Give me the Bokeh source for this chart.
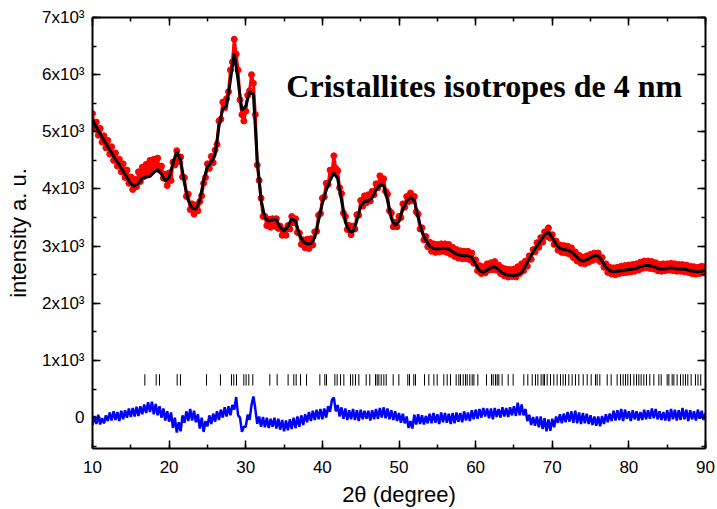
import numpy as np
from bokeh.plotting import figure
from bokeh.models import (LinearAxis, SingleIntervalTicker, Range1d, Label)
from bokeh.embed import file_html
from bokeh.resources import INLINE

# ---------------- data ----------------
X_START = 10.0
CALC_STEP = 0.5
OBS_STEP = 0.25

# calculated profile (black line), every 0.5 deg from 10 to 90
y_calc = [
    5210, 5080, 4960, 4850, 4740, 4630, 4520, 4420, 4310, 4200,   # 10 - 14.5
    4090, 4050, 4100, 4190, 4210, 4220, 4290, 4340, 4260, 4140,   # 15 - 19.5
    4200, 4450, 4660, 4500, 4100, 3800, 3660, 3650, 3800, 4150,   # 20 - 24.5
    4390, 4470, 4600, 5100, 5400, 5450, 5900, 6370, 5900, 5380,   # 25 - 29.5
    5450, 5700, 5650, 4500, 3800, 3500, 3440, 3460, 3460, 3330,   # 30 - 34.5
    3260, 3340, 3480, 3440, 3200, 3080, 3040, 3040, 3150, 3450,   # 35 - 39.5
    3750, 3980, 4150, 4280, 4180, 3800, 3420, 3260, 3250, 3450,   # 40 - 44.5
    3700, 3780, 3790, 3850, 3980, 4070, 4060, 3800, 3480, 3360,   # 45 - 49.5
    3430, 3650, 3780, 3850, 3800, 3500, 3250, 3100, 3000, 2960,   # 50 - 54.5
    2950, 2960, 2960, 2950, 2900, 2860, 2840, 2830, 2830, 2800,   # 55 - 59.5
    2680, 2570, 2540, 2580, 2620, 2640, 2590, 2530, 2500, 2490,   # 60 - 64.5
    2480, 2500, 2540, 2650, 2780, 2900, 3000, 3100, 3200, 3250,   # 65 - 69.5
    3150, 3030, 2960, 2940, 2930, 2900, 2840, 2770, 2740, 2760,   # 70 - 74.5
    2800, 2830, 2830, 2740, 2630, 2570, 2550, 2560, 2570, 2580,   # 75 - 79.5
    2590, 2600, 2610, 2640, 2660, 2660, 2650, 2630, 2600, 2600,   # 80 - 84.5
    2610, 2620, 2610, 2600, 2600, 2590, 2570, 2560, 2550, 2560,   # 85 - 89.5
    2580,                                                         # 90
]

# observed intensities (red dots), every 0.25 deg from 10 to 90
y_obs = [
    5320, 5060, 5170, 4940, 5060, 4820, 4930, 4720,   # 10
    4850, 4610, 4740, 4500, 4630, 4400, 4520, 4300,   # 12
    4440, 4200, 4330, 4100, 4210, 3990, 4170, 4040,   # 14
    4300, 4130, 4380, 4220, 4430, 4280, 4500, 4300,   # 16
    4520, 4350, 4540, 4330, 4400, 4190, 4260, 4060,   # 18
    4280, 4150, 4470, 4420, 4670, 4480, 4560, 4210,   # 20
    4200, 3870, 3910, 3640, 3740, 3560, 3720, 3620,   # 22
    3780, 3880, 4100, 4200, 4440, 4360, 4570, 4460,   # 24
    4680, 4780, 5190, 5220, 5520, 5420, 5580, 5700,   # 26
    6080, 6220, 6620, 6360, 6080, 5560, 5300, 5190,   # 28
    5360, 5640, 5720, 6000, 5850, 5300, 4420, 4150,   # 30
    3840, 3520, 3520, 3360, 3470, 3330, 3480, 3350,   # 32
    3480, 3310, 3350, 3190, 3280, 3190, 3360, 3300,   # 34
    3520, 3410, 3480, 3240, 3230, 3030, 3110, 2970,   # 36
    3120, 2960, 3130, 3020, 3250, 3260, 3540, 3570,   # 38
    3840, 3860, 4100, 4080, 4330, 4300, 4580, 4360,   # 40
    4320, 4020, 3920, 3580, 3520, 3290, 3360, 3200,   # 42
    3350, 3300, 3550, 3540, 3800, 3700, 3880, 3760,   # 44
    3900, 3790, 3960, 3900, 4090, 4020, 4230, 4100,   # 46
    4180, 3960, 3910, 3620, 3580, 3340, 3420, 3340,   # 48
    3520, 3500, 3740, 3680, 3870, 3780, 3930, 3800,   # 50
    3870, 3600, 3560, 3300, 3320, 3110, 3170, 2990,   # 52
    3070, 2910, 3040, 2890, 3030, 2900, 3040, 2910,   # 54
    3040, 2890, 3030, 2860, 2980, 2820, 2940, 2790,   # 56
    2920, 2780, 2910, 2780, 2910, 2760, 2880, 2700,   # 58
    2760, 2570, 2660, 2520, 2640, 2530, 2690, 2580,   # 60
    2710, 2590, 2730, 2580, 2670, 2520, 2620, 2480,   # 62
    2600, 2460, 2590, 2470, 2600, 2460, 2640, 2520,   # 64
    2690, 2570, 2740, 2650, 2830, 2770, 2940, 2900,   # 66
    3060, 2980, 3150, 3070, 3250, 3170, 3320, 3140,   # 68
    3200, 3030, 3090, 2930, 3020, 2890, 3010, 2880,   # 70
    3000, 2860, 2970, 2800, 2900, 2740, 2840, 2700,   # 72
    2810, 2690, 2830, 2720, 2860, 2750, 2880, 2770,   # 74
    2880, 2730, 2800, 2630, 2690, 2540, 2630, 2510,   # 76
    2620, 2500, 2630, 2520, 2650, 2530, 2660, 2540,   # 78
    2670, 2550, 2680, 2560, 2690, 2580, 2720, 2610,   # 80
    2740, 2620, 2740, 2610, 2730, 2600, 2710, 2570,   # 82
    2680, 2560, 2690, 2570, 2690, 2580, 2700, 2570,   # 84
    2690, 2560, 2680, 2560, 2680, 2550, 2670, 2540,   # 86
    2650, 2520, 2640, 2510, 2630, 2520, 2650, 2530,   # 88
    2640,                                             # 90
]

# difference curve (blue), every 0.25 deg from 10 to 90
y_diff = [
    -130, 30, -110, 50, -120, -10, -100, 40,     # 10
    -60, 90, -50, 110, -40, 100, -60, 120,       # 12
    -30, 130, 0, 160, 10, 170, 20, 190,          # 14
    30, 200, 60, 230, 80, 270, 100, 280,         # 16
    60, 240, 40, 200, 0, 160, -50, 110,          # 18
    -70, 90, -180, 0, -260, -80, -240, 40,       # 20
    -90, 110, -60, 150, -50, 120, -80, 60,       # 22
    -190, 0, -250, -60, -150, 40, -110, 70,      # 24
    -70, 110, -40, 140, 0, 180, 20, 200,         # 26
    40, 220, 140, 360, 40, 0, -250, -160,        # 28
    -160, 50, -40, 220, 370, 150, -110, 20,      # 30
    -160, 10, -170, 0, -180, -20, -160, 0,       # 32
    -190, -20, -210, -40, -240, -50, -220, -30,  # 34
    -200, 0, -180, 20, -160, 40, -130, 60,       # 36
    -80, 100, -60, 120, -40, 140, -30, 150,      # 38
    -30, 160, 0, 200, 100, 310, 350, 110,        # 40
    220, 20, 180, -20, 160, -40, 130, -30,       # 42
    150, -40, 130, -60, 140, -30, 120, -20,      # 44
    120, -50, 130, -30, 150, -20, 170, 0,        # 46
    180, -10, 160, -30, 130, -40, 110, -60,      # 48
    80, -90, 70, -100, 20, -180, -60, -190,      # 50
    50, -120, 60, -110, 40, -120, 30, -100,      # 52
    70, -100, 80, -90, 60, -110, 90, -80,        # 54
    80, -90, 70, -110, 80, -100, 90, -70,        # 56
    80, -80, 110, -50, 90, -60, 130, -30,        # 58
    140, -20, 150, 0, 170, 20, 160, -10,         # 60
    160, -30, 170, 10, 150, 0, 180, 20,          # 62
    170, 10, 180, 40, 200, 30, 260, 40,          # 64
    230, 40, 150, -60, 50, -130, 10, -140,       # 66
    20, -170, 20, -200, -10, -240, -30, -230,    # 68
    -20, -170, 20, -90, 60, -100, 70, -80,       # 70
    100, -70, 110, -90, 120, -100, 90, -110,     # 72
    80, -100, 70, -110, 40, -130, 20, -140,      # 74
    20, -150, 30, -110, 60, -80, 70, -60,        # 76
    120, -50, 130, -40, 150, -60, 140, -20,      # 78
    110, -60, 130, -30, 110, -50, 100, -40,      # 80
    140, -30, 130, -20, 160, -10, 150, -30,      # 82
    110, -40, 100, -50, 130, -60, 150, -30,      # 84
    140, -50, 130, -40, 170, -30, 140, -60,      # 86
    130, -30, 110, -50, 140, -20, 120, -40,      # 88
    80,                                          # 90
]

# Bragg reflection positions (2theta, deg)
bragg_pos = [
    16.83, 18.31, 18.74, 21.05, 21.48, 24.88, 26.70, 28.14, 28.44, 28.79,
    29.75, 30.05, 30.40, 30.92, 33.14, 34.10, 35.53, 36.27, 36.58, 37.15,
    37.93, 39.67, 40.32, 40.54, 41.63, 41.93, 42.37, 42.80, 43.67, 43.97,
    44.32, 44.76, 45.72, 46.19, 46.93, 47.15, 47.37, 47.68, 48.02, 48.33,
    49.24, 49.98, 51.15, 51.37, 51.93, 52.15,
    53.33, 53.89, 54.55, 54.98, 55.85, 56.29, 56.72, 57.46, 57.81, 58.03,
    58.38, 58.68, 58.90, 59.24, 59.55, 59.77, 60.29, 61.42, 62.07, 62.29,
    62.59, 62.81, 63.03, 63.46, 64.25, 64.90, 66.29, 66.81, 67.38, 67.81,
    68.12, 68.55, 68.81, 68.99, 69.34, 69.77, 70.21, 70.64, 71.08, 71.42,
    71.73, 72.16, 72.60, 73.03, 73.47, 74.04, 74.56, 75.08, 75.64, 75.86,
    76.21, 77.17, 77.69, 78.47, 78.91, 79.25, 79.56, 79.86, 80.21, 80.65,
    81.00, 81.30, 81.60, 81.95, 82.30, 82.73, 83.26, 83.91, 84.22, 85.00,
    85.22, 85.65, 85.87, 86.30, 86.74, 87.08, 87.39, 87.69, 88.13, 88.69,
    89.02, 89.38,
]

y_tick_labels = {0: "0", 1000: "1x10³", 2000: "2x10³", 3000: "3x10³",
                 4000: "4x10³", 5000: "5x10³", 6000: "6x10³", 7000: "7x10³"}
title_text = "Cristallites isotropes de 4 nm"
x_label = "2θ (degree)"
y_label = "intensity a. u."

x_calc = X_START + CALC_STEP * np.arange(len(y_calc))
x_obs = X_START + OBS_STEP * np.arange(len(y_obs))
x_diff = X_START + OBS_STEP * np.arange(len(y_diff))

# ---------------- figure ----------------
p = figure(width=717, height=509, output_backend="svg", toolbar_location=None,
           x_range=Range1d(10, 90), y_range=Range1d(-540, 7000),
           min_border_left=92, min_border_right=12, min_border_top=17,
           min_border_bottom=58, x_axis_location=None, y_axis_location=None)
p.background_fill_color = "white"
p.border_fill_color = "white"
p.outline_line_color = None
p.xgrid.visible = False
p.ygrid.visible = False

def style_axis(ax, labels=True):
    ax.axis_line_width = 2
    ax.axis_line_color = "black"
    ax.major_tick_in = 8
    ax.major_tick_out = 0
    ax.minor_tick_in = 4
    ax.minor_tick_out = 0
    ax.major_tick_line_width = 1.5
    ax.minor_tick_line_width = 1.5
    ax.major_tick_line_color = "black"
    ax.minor_tick_line_color = "black"
    if labels:
        ax.major_label_text_font = "Liberation Sans"
        ax.major_label_text_font_size = "17px"
        ax.major_label_text_color = "black"
        ax.axis_label_text_font = "Liberation Sans"
        ax.axis_label_text_font_size = "22px"
        ax.axis_label_text_font_style = "normal"
        ax.axis_label_text_color = "black"
    else:
        ax.major_label_text_font_size = "1px"
        ax.major_label_text_color = None
        ax.major_label_standoff = 0

xb = LinearAxis(ticker=SingleIntervalTicker(interval=10, num_minor_ticks=2), axis_label=x_label)
style_axis(xb)
xb.major_label_standoff = 12
xb.axis_label_standoff = 6
p.add_layout(xb, "below")

yl = LinearAxis(ticker=SingleIntervalTicker(interval=1000, num_minor_ticks=2), axis_label=y_label)
style_axis(yl)
yl.major_label_overrides = y_tick_labels
yl.major_label_standoff = 8
yl.axis_label_standoff = 8
p.add_layout(yl, "left")

xt = LinearAxis(ticker=SingleIntervalTicker(interval=10, num_minor_ticks=2))
style_axis(xt, labels=False)
p.add_layout(xt, "above")

yr = LinearAxis(ticker=SingleIntervalTicker(interval=1000, num_minor_ticks=2))
style_axis(yr, labels=False)
p.add_layout(yr, "right")

# observed: dense band of points
p.line(x_obs, y_obs, line_color="#ff0000", line_width=3)
p.scatter(x_obs, y_obs, size=6, color="#ff0000", line_color="#ff0000")
# calculated
p.line(x_calc, y_calc, line_color="black", line_width=3)
# difference
p.line(x_diff, y_diff, line_color="#0000ff", line_width=2.5)
# Bragg positions
p.segment(x0=bragg_pos, x1=bragg_pos, y0=[560] * len(bragg_pos), y1=[760] * len(bragg_pos),
          line_color="black", line_width=1)

p.add_layout(Label(x=35.3, y=5810, text=title_text, text_font="Liberation Serif",
                   text_font_style="bold", text_font_size="32px", text_color="black",
                   text_baseline="alphabetic"))

open("out.html", "w").write(file_html(p, INLINE))
